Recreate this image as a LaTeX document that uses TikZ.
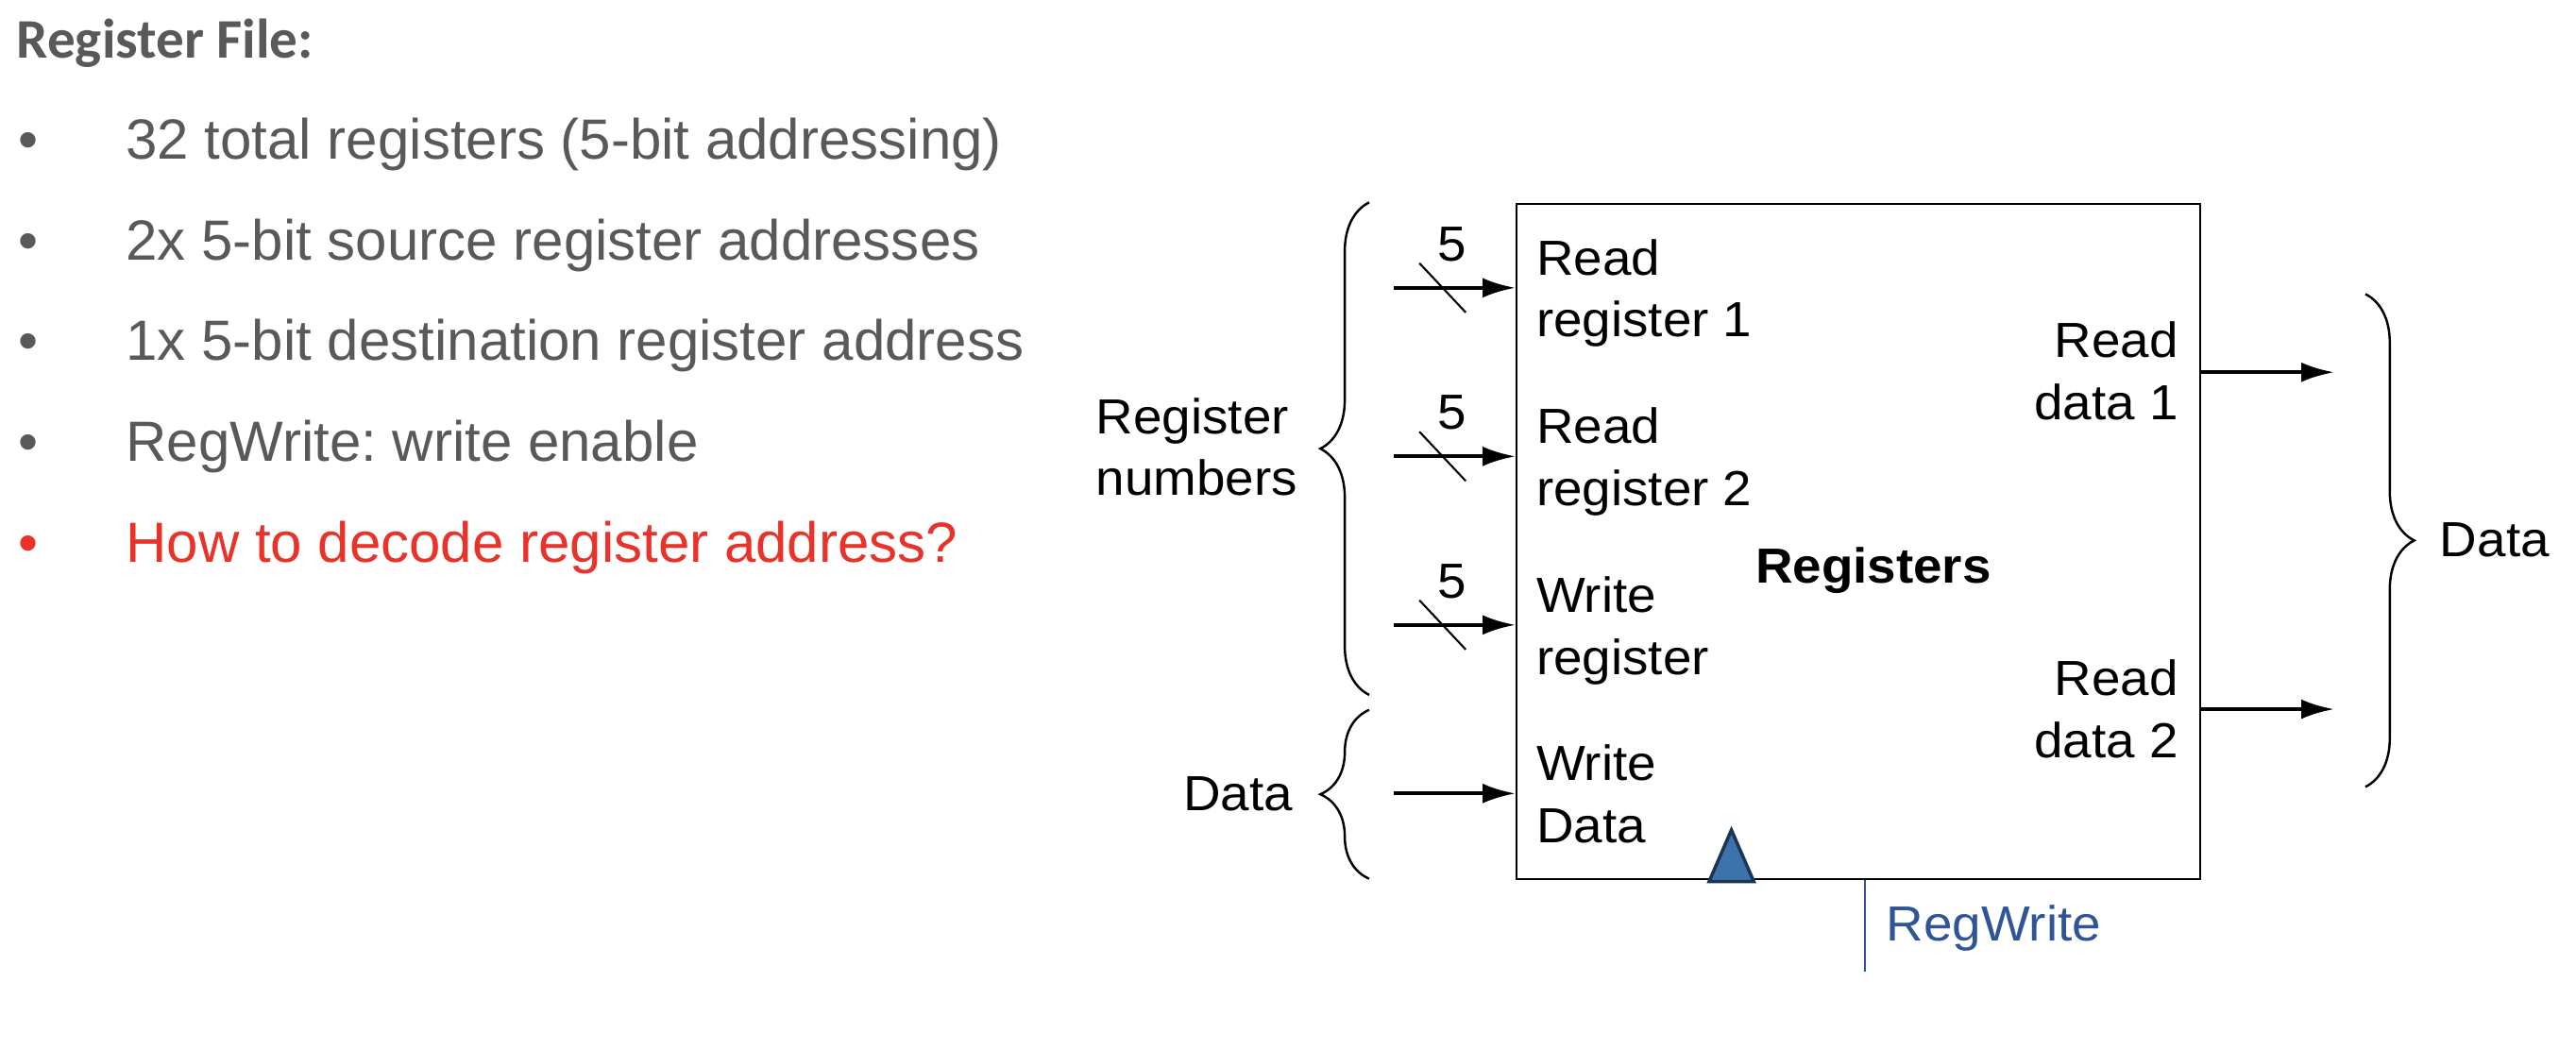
\documentclass[tikz,border=0pt]{standalone}
\usepackage{fontspec}
\setmainfont{Liberation Sans}
\newfontfamily\titlefont{Carlito}
\newfontfamily\figfont[FakeStretch=1.05]{Liberation Sans}
\usepackage{xcolor}
\definecolor{dnxam}{HTML}{595959}
\definecolor{dnlua}{HTML}{E8322A}
\definecolor{dnxanh}{HTML}{2F5597}
\definecolor{dnbien}{HTML}{3E72AA}
\definecolor{dnmuc}{HTML}{1B3554}
\def\mauchu{dnxam}
\def\mauve{dnxanh}
\usepackage{tikz}
\usetikzlibrary{arrows.meta,calc,positioning,decorations.pathreplacing}
\frenchspacing
\begin{document}
\begin{tikzpicture}[x=1pt,y=-1pt,declare function={%
			hx=922.5;
			hy=123.5;
			hw=416;
			hh=411;
			dy=102.6;
		}
		]%
		\tikzset{
			tieude/.style={font=\titlefont\bfseries\fontsize{34}{40}\selectfont,text=\mauchu,inner sep=0pt},
			dong/.style={font=\fontsize{34.5}{40}\selectfont,text=\mauchu,inner sep=0pt},
			nhan/.style={font=\figfont\fontsize{30}{37.7}\selectfont,inner sep=0pt},
			muiten/.style={line width=2.4pt,-{Latex[length=20pt,width=12pt]}},
			ngoac/.style={line width=1.4pt,decorate,decoration={brace,amplitude=29.7pt}},
			vach/.style={line width=1.2pt}
		}
		\useasboundingbox (0,0) rectangle (1568,639);
		%%%Phần chữ bên trái
		\path (10,35.5) node[anchor=base west,tieude] (td) {Register File:};
		\foreach \t [count=\i] in {32 total registers (5-bit addressing),2x 5-bit source register addresses,1x 5-bit destination register address,RegWrite: write enable}{%
			\path (11,96.8+61.3*\i-61.3) node[anchor=base west,dong] (c\i) {•};
			\path (76.5,96.8+61.3*\i-61.3) node[anchor=base west,dong] (d\i) {\t};
		}
		\path (11,342) node[anchor=base west,dong,text=dnlua] (c5) {•};
		\path (76.5,342) node[anchor=base west,dong,text=dnlua] (d5) {How to decode register address?};
		%%%Khối thanh ghi (mốc base = dòng cuối)
		\path (hx,hy) node[draw,line width=1.4pt,anchor=north west,minimum width=hw,minimum height=hh,inner sep=0pt] (kh) {};
		\path (1140.3,355) node[anchor=base,inner sep=0pt,font=\figfont\bfseries\fontsize{30}{36}\selectfont] (ten) {Registers};
		\path (935,205.1) node[anchor=base west,nhan,align=left] (r1) {Read\\register 1};
		\path (935,307.7) node[anchor=base west,nhan,align=left] (r2) {Read\\register 2};
		\path (935,410.5) node[anchor=base west,nhan,align=left] (w1) {Write\\register};
		\path (935,512.7) node[anchor=base west,nhan,align=left] (w2) {Write\\Data};
		\path (1326,255.5) node[anchor=base east,nhan,align=right] (rd1) {Read\\data 1};
		\path (1326,461.3) node[anchor=base east,nhan,align=right] (rd2) {Read\\data 2};
		%%%Các lối vào
		\foreach \i in {1,2,3,4}{%
			\coordinate (v\i) at (848.6,175.2+dy*\i-dy);
			\draw[muiten] (v\i) -- (v\i -| kh.west);
		}
		\foreach \i in {1,2,3}{%
			\draw[vach] ($(v\i)+(15.4,-15)$) -- ($(v\i)+(43.6,15)$);
			\path ($(v\i)+(35,-26.6)$) node[nhan] (n\i) {5};
		}
		%%%Các lối ra
		\coordinate (ra1) at (1420.8,226.6);
		\coordinate (ra2) at (1420.8,431.7);
		\draw[muiten] (ra1 -| kh.east) -- (ra1);
		\draw[muiten] (ra2 -| kh.east) -- (ra2);
		%%%Dấu ngoặc
		\coordinate (g1a) at (833.4,423);
		\coordinate (g1b) at (833.4,123.2);
		\coordinate (g2a) at (833.4,534.9);
		\coordinate (g2b) at (833.4,432.1);
		\coordinate (g3a) at (1439.8,179);
		\coordinate (g3b) at (1439.8,479);
		\draw[ngoac] (g1a) -- (g1b);
		\draw[ngoac] (g2a) -- (g2b);
		\draw[ngoac] (g3a) -- (g3b);
		\path (667,301.6) node[anchor=base west,nhan,align=left] (sn) {Register\\numbers};
		\path (787,493.4) node[anchor=base east,nhan] (dl) {Data};
		\path (1485,338.8) node[anchor=base west,nhan] (dr) {Data};
		%%%Xung nhịp và RegWrite
		\draw[fill=dnbien,draw=dnmuc,line width=2pt,line join=miter] (1040.3,536.6) -- (1067.5,536.6) -- (1053.9,505.2) -- cycle;
		\coordinate (rw) at (1135,591.5);
		\draw[\mauve,line width=1.3pt] (rw |- kh.south) -- (rw);
		\path (1148,572.5) node[anchor=base west,nhan,text=\mauve] (rwt) {RegWrite};
	\end{tikzpicture}
\end{document}
